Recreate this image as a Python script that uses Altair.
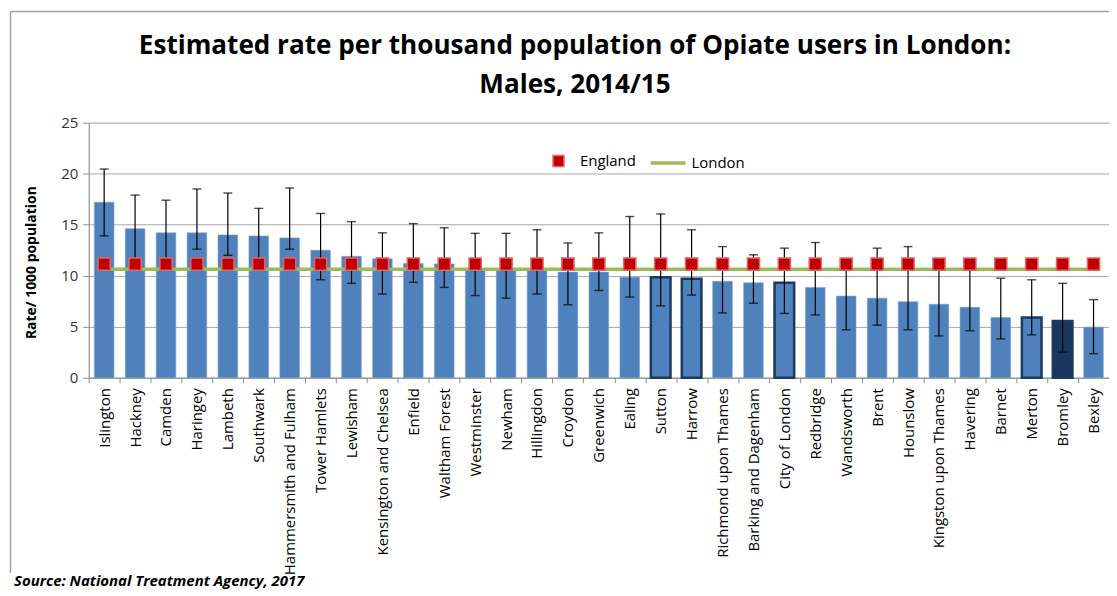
import altair as alt
import pandas as pd

boroughs = [
    "Islington", "Hackney", "Camden", "Haringey", "Lambeth", "Southwark",
    "Hammersmith and Fulham", "Tower Hamlets", "Lewisham", "Kensington and Chelsea",
    "Enfield", "Waltham Forest", "Westminster", "Newham", "Hillingdon", "Croydon",
    "Greenwich", "Ealing", "Sutton", "Harrow", "Richmond upon Thames",
    "Barking and Dagenham", "City of London", "Redbridge", "Wandsworth", "Brent",
    "Hounslow", "Kingston upon Thames", "Havering", "Barnet", "Merton", "Bromley", "Bexley",
]
rate = [17.2, 14.6, 14.2, 14.2, 14.0, 13.9, 13.7, 12.5, 11.9, 11.65, 11.2, 11.15,
        10.55, 10.55, 10.55, 10.35, 10.35, 9.85, 9.85, 9.7, 9.45, 9.3, 9.3, 8.85,
        8.0, 7.8, 7.45, 7.2, 6.9, 5.9, 5.9, 5.55, 4.95]
ci_low = [13.9, 11.4, 11.4, 12.6, 12.0, 11.5, 12.6, 9.6, 9.25, 8.2, 9.35, 8.85,
          8.05, 7.8, 8.2, 7.15, 8.55, 7.9, 7.05, 8.1, 6.35, 7.3, 6.3, 6.15,
          4.7, 5.15, 4.7, 4.1, 4.6, 3.8, 4.2, 2.5, 2.35]
ci_high = [20.45, 17.9, 17.4, 18.5, 18.1, 16.6, 18.6, 16.1, 15.3, 14.2, 15.1, 14.7,
           14.15, 14.15, 14.5, 13.2, 14.2, 15.8, 16.05, 14.5, 12.85, 12.05, 12.7, 13.25,
           11.4, 12.7, 12.85, 11.4, 11.4, 9.75, 9.6, 9.25, 7.65]
england_rate = 11.14
london_rate = 10.62
outlined = ["Sutton", "Harrow", "City of London", "Merton"]
dark = ["Bromley"]
title_lines = ["Estimated rate per thousand population of Opiate users in London:",
               "Males, 2014/15"]
source_text = "Source: National Treatment Agency, 2017"

df = pd.DataFrame({"borough": boroughs, "rate": rate, "lo": ci_low, "hi": ci_high})
df["England"] = england_rate
df["London"] = london_rate

FONT = "Open Sans"
GRID = "#A8A8A8"
YTITLE = "Rate/ 1000 population"

x_main = alt.X(
    "borough:N", sort=boroughs, title=None,
    scale=alt.Scale(paddingInner=0, paddingOuter=0),
    axis=alt.Axis(labelAngle=-90, labelAlign="right", labelBaseline="middle",
                  labelFont=FONT, labelFontSize=15, labelColor="#000000",
                  labelPadding=5, tickBand="extent", tickSize=5, tickColor="#8C8C8C",
                  domainColor="#8C8C8C", grid=False, labelLimit=300),
)
x_plain = alt.X("borough:N", sort=boroughs, title=None)
yscale = alt.Scale(domain=[0, 25], nice=False)
y_axis = alt.Axis(values=[0, 5, 10, 15, 20, 25], title=YTITLE, grid=True, gridColor=GRID,
                  domainColor="#8C8C8C", tickColor="#8C8C8C", tickSize=6,
                  labelFont=FONT, labelFontSize=15, labelColor="#333333", labelPadding=5,
                  titleFont=FONT, titleFontSize=14, titleFontWeight="bold", titleColor="#000000",
                  titleX=-50, titleY=140, titleAngle=-90, titleAlign="center",
                  titleBaseline="bottom")

base = alt.Chart(df)

is_dark = alt.FieldOneOfPredicate(field="borough", oneOf=dark)
is_outl = alt.FieldOneOfPredicate(field="borough", oneOf=outlined + dark)

bars = base.mark_bar(width=alt.RelativeBandSize(0.635)).encode(
    x=x_main,
    y=alt.Y("rate:Q", scale=yscale, axis=y_axis, title=YTITLE),
    fill=alt.condition(is_dark, alt.value("#17375E"), alt.value("#4F81BD")),
    stroke=alt.condition(is_outl, alt.value("#1B3A60"), alt.value("#7EA1D0")),
    strokeWidth=alt.condition(is_outl, alt.value(2.5), alt.value(0.6)),
)

line = base.transform_calculate(series="'London'").mark_line(strokeWidth=3.5).encode(
    x=x_plain,
    y=alt.Y("London:Q", scale=yscale, title=YTITLE),
    color=alt.Color("series:N", scale=alt.Scale(domain=["London"], range=["#9BBB59"]),
                    legend=alt.Legend(title=None, orient="none", legendX=562, legendY=21,
                                      symbolType="stroke", symbolSize=1225,
                                      symbolStrokeWidth=3.5, labelOffset=4, padding=0,
                                      labelFont=FONT, labelFontSize=15, labelColor="#000000")),
)

rules = base.mark_rule(color="#000000", strokeWidth=1.2).encode(
    x=x_plain,
    y=alt.Y("lo:Q", scale=yscale, title=YTITLE),
    y2="hi:Q",
)
cap_hi = base.mark_tick(color="#000000", size=9, thickness=1.4).encode(
    x=x_plain, y=alt.Y("hi:Q", scale=yscale, title=YTITLE))
cap_lo = base.mark_tick(color="#000000", size=9, thickness=1.4).encode(
    x=x_plain, y=alt.Y("lo:Q", scale=yscale, title=YTITLE))

points = base.transform_calculate(series="'England'").mark_point(
    shape="square", filled=True, size=150, stroke="#E06666", strokeWidth=1.5, opacity=1
).encode(
    x=x_plain,
    y=alt.Y("England:Q", scale=yscale, title=YTITLE),
    color=alt.Color("series:N", scale=alt.Scale(domain=["England"], range=["#C00000"]),
                    legend=alt.Legend(title=None, orient="none", legendX=464, legendY=31,
                                      symbolType="square", symbolSize=121,
                                      symbolStrokeColor="#E06666", symbolStrokeWidth=1.5,
                                      labelOffset=14, padding=0,
                                      labelFont=FONT, labelFontSize=15, labelColor="#000000")),
)

one = alt.Chart(pd.DataFrame({"k": [0]}))
border_left = one.mark_rule(color="#A0A0A0", strokeWidth=1.5).encode(
    x=alt.value(-78.5), y=alt.value(-111.5), y2=alt.value(452))
border_top = one.mark_rule(color="#A0A0A0", strokeWidth=1.5).encode(
    x=alt.value(-78.5), x2=alt.value(1040), y=alt.value(-111.5))
title = one.mark_text(
    text=title_lines, align="center", baseline="alphabetic", lineHeight=39,
    font=FONT, fontSize=26.2, fontWeight="bold", color="#000000"
).encode(x=alt.value(488), y=alt.value(-69))
source = one.mark_text(
    text=source_text, align="left", baseline="alphabetic",
    font=FONT, fontSize=15, fontStyle="italic", fontWeight="bold", color="#000000"
).encode(x=alt.value(-75), y=alt.value(465))

chart = alt.layer(
    bars, line, rules, cap_hi, cap_lo, points, border_left, border_top, title, source
).resolve_scale(color="independent").properties(
    width=1024, height=256,
    autosize="none",
    padding={"left": 81, "top": 114, "right": 0, "bottom": 214},
).configure_view(stroke=None).configure(background="#FFFFFF")

chart.save("out.html", embed_options={"renderer": "svg", "actions": False})
